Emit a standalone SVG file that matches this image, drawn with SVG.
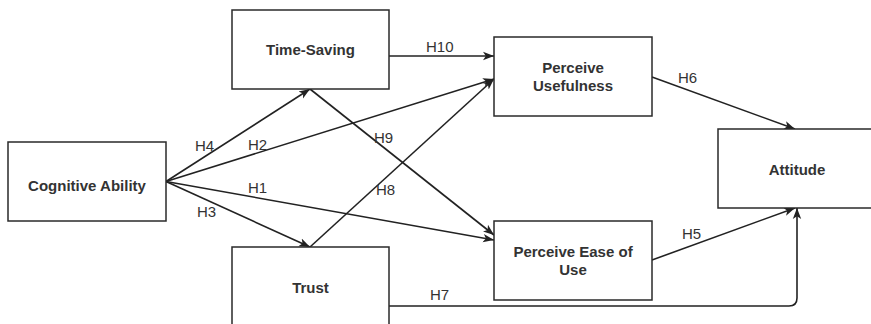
<svg xmlns="http://www.w3.org/2000/svg" width="871" height="324" viewBox="0 0 871 324">
  <defs>
    <marker id="arrow" markerUnits="userSpaceOnUse" markerWidth="12" markerHeight="10" viewBox="0 0 12 10" refX="11" refY="5" orient="auto">
      <path d="M0,0.8 L11,5 L0,9.2 L2.8,5 Z" fill="#222"/>
    </marker>
    <style>
      .box { fill: #fff; stroke: #2a2a2a; stroke-width: 1.5; }
      .node-text { font-family: "Liberation Sans", Arial, sans-serif; font-size: 15px; font-weight: bold; fill: #333; text-anchor: middle; }
      .edge { fill: none; stroke: #222; stroke-width: 1.6; marker-end: url(#arrow); }
      .label { font-family: "Liberation Sans", Arial, sans-serif; font-size: 15px; fill: #333; }
    </style>
  </defs>
  <rect width="871" height="324" fill="#fff"/>

  <!-- connectors -->
  <g id="connectors">
    <path class="edge" d="M389,56 L494,56"/>
    <path class="edge" d="M166,181.5 L310,89"/>
    <path class="edge" d="M166,181.5 L494,79"/>
    <path class="edge" d="M310,89 L494,235"/>
    <path class="edge" d="M310,247 L494,79"/>
    <path class="edge" d="M166,181.5 L494,240"/>
    <path class="edge" d="M166,181.5 L310,247"/>
    <path class="edge" d="M652,77 L795,129"/>
    <path class="edge" d="M652,260 L795,208"/>
    <path class="edge" d="M389,306 L789,306 Q797,306 797,298 L797,208"/>
    <text class="label" x="426" y="52">H10</text>
    <text class="label" x="195" y="151">H4</text>
    <text class="label" x="248" y="150">H2</text>
    <text class="label" x="374" y="143">H9</text>
    <text class="label" x="248" y="193">H1</text>
    <text class="label" x="376" y="195">H8</text>
    <text class="label" x="197" y="217">H3</text>
    <text class="label" x="678" y="83">H6</text>
    <text class="label" x="682" y="239">H5</text>
    <text class="label" x="430" y="300">H7</text>
  </g>

  <g id="time-saving">
    <rect class="box" x="232" y="10" width="157" height="79"/>
    <text class="node-text" x="310.5" y="55">Time-Saving</text>
  </g>
  <g id="cognitive-ability">
    <rect class="box" x="8" y="142" width="158" height="79"/>
    <text class="node-text" x="87" y="191">Cognitive Ability</text>
  </g>
  <g id="trust">
    <rect class="box" x="232" y="247" width="157" height="79"/>
    <text class="node-text" x="310.5" y="293">Trust</text>
  </g>
  <g id="perceive-usefulness">
    <rect class="box" x="494" y="37" width="158" height="79"/>
    <text class="node-text" x="573" y="73">Perceive</text>
    <text class="node-text" x="573" y="91">Usefulness</text>
  </g>
  <g id="perceive-ease-of-use">
    <rect class="box" x="494" y="221" width="158" height="79"/>
    <text class="node-text" x="573" y="257">Perceive Ease of</text>
    <text class="node-text" x="573" y="275">Use</text>
  </g>
  <g id="attitude">
    <rect class="box" x="718" y="129" width="158" height="79"/>
    <text class="node-text" x="797" y="175">Attitude</text>
  </g>
</svg>
